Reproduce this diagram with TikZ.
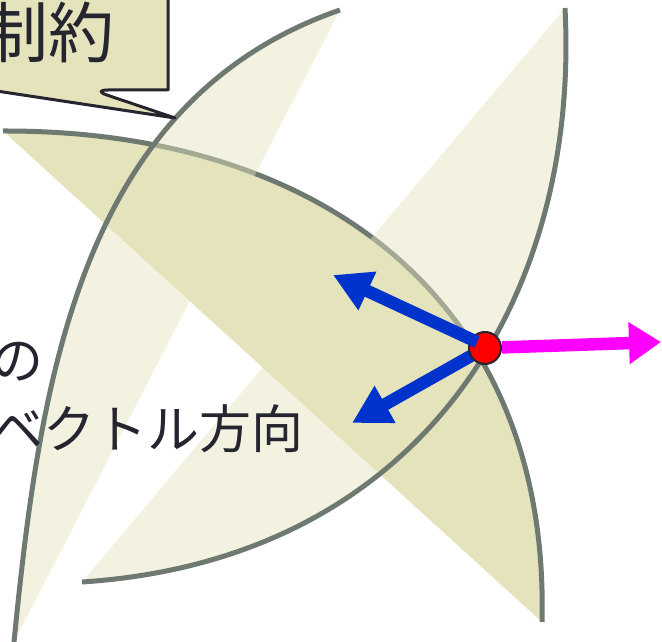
\documentclass[tikz,border=0pt]{standalone}
\usepackage{fontspec}
\newfontfamily\jpfont{Noto Sans CJK JP}
\usetikzlibrary{arrows.meta}
\definecolor{leaf}{HTML}{E5E3BB}
\definecolor{rimgray}{HTML}{6E7A71}
\definecolor{ink}{HTML}{25252F}
\definecolor{gradblue}{HTML}{0033CC}
\definecolor{forcepink}{HTML}{FF00FF}
\definecolor{dotred}{HTML}{FF0000}

\begin{document}
\begin{tikzpicture}[x=1pt, y=-1pt, line join=round,
    rim/.style={draw=rimgray, line width=5pt},
    vec/.style={line width=12.5pt, -{Triangle[length=38pt,width=40pt]}},
    word/.style={text=ink, inner sep=0pt, font=\jpfont\fontsize{52}{60}\selectfont}]
    % 枠
    \useasboundingbox (0,0) rectangle (662,642);
    \clip (0,0) rectangle (662,642);

    % 三枚の葉の曲線
    \def\curveA{(340,10) .. controls (80,100) and (40,380) .. (14,642)}
    \def\curveB{(565,8) .. controls (580,300) and (420,560) .. (82,582)}
    \def\curveC{(3,131) .. controls (320,130) and (550,300) .. (542,622)}

    % 中央の葉
    \fill[leaf] \curveC -- cycle;
    \draw[rim] \curveC;

    % 左右の葉 (半透明)
    \fill[leaf, fill opacity=0.45] \curveA -- cycle;
    \fill[leaf, fill opacity=0.45] \curveB -- cycle;
    \draw[rim] \curveA;
    \draw[rim] \curveB;

    % 点とベクトル
    \coordinate (c) at (485,348);
    \coordinate (ga) at (333,275);
    \coordinate (gb) at (352,423);
    \coordinate (fv) at (661,342);
    \draw[vec, gradblue] (c) -- (gb);
    \node[circle, fill=dotred, draw=ink, line width=2pt, minimum size=32pt, inner sep=0pt] (pt) at (c) {};
    \draw[vec, gradblue] ([shift={(-8,-6)}]c) -- (ga);
    \draw[vec, forcepink, -{Triangle[length=32pt,width=40pt]}] (pt) -- (fv);

    % 吹き出し
    \draw[line width=3pt, draw=ink, fill=leaf] (-30,-30) -- (168,-30) -- (168,90)
        [rounded corners=16pt] -- (92,90) [sharp corners] -- (175,118) -- (-30,87) -- cycle;
    \node[word, font=\jpfont\fontsize{66}{72}\selectfont, anchor=base east] (cstr) at (115,58) {制約};

    % ラベル
    \node[word, anchor=base west] (lbla) at (-9,379) {の};
    \node[word, anchor=base west] (lblb) at (-9,448) {ベクトル方向};
\end{tikzpicture}
\end{document}
